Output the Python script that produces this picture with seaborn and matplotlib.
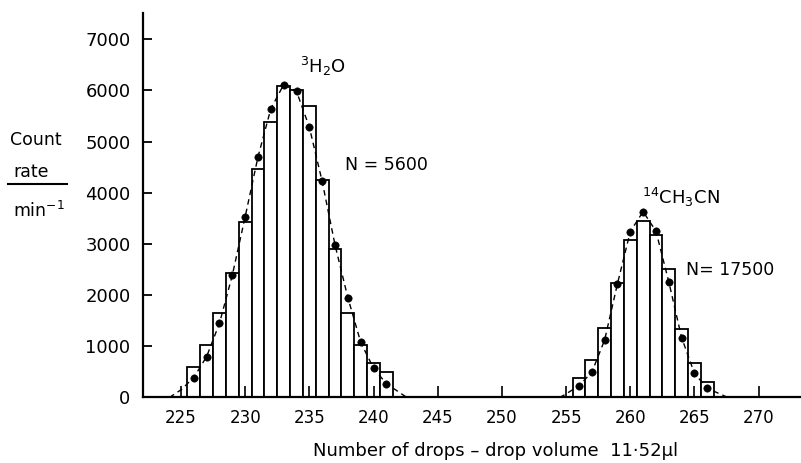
import matplotlib
matplotlib.use("Agg")
import matplotlib.pyplot as plt
import seaborn as sns
import pandas as pd
from matplotlib.lines import Line2D

# drop numbers for the two peaks
peak1_x = [226, 227, 228, 229, 230, 231, 232, 233, 234, 235, 236, 237, 238, 239, 240, 241]
peak2_x = [256, 257, 258, 259, 260, 261, 262, 263, 264, 265, 266]

# histogram bars (count rate, min^-1)
peak1_bars = [600, 1020, 1650, 2440, 3420, 4460, 5380, 6090, 6010, 5690, 4240, 2900, 1650, 1020, 670, 500]
peak2_bars = [390, 730, 1360, 2240, 3070, 3440, 3180, 2500, 1330, 680, 310]

# measured points
peak1_dots = [390, 800, 1450, 2390, 3530, 4700, 5640, 6110, 5980, 5280, 4220, 2980, 1950, 1080, 570, 270]
peak2_dots = [230, 490, 1120, 2220, 3240, 3630, 3250, 2260, 1170, 470, 180]

# dashed curve tails
curve1_x = [224.1, 225.0] + peak1_x + [242.6]
curve1_y = [0, 150] + peak1_dots + [0]
curve2_x = [254.5, 255.0] + peak2_x + [267.6]
curve2_y = [0, 70] + peak2_dots + [0]

x_ticks = [225, 230, 235, 240, 245, 250, 255, 260, 265, 270]
y_ticks = [0, 1000, 2000, 3000, 4000, 5000, 6000, 7000]

bars = pd.DataFrame({"drops": peak1_x + peak2_x, "rate": peak1_bars + peak2_bars})

fig = plt.figure(figsize=(8.01, 4.63), dpi=100)
ax = fig.add_axes([0.1785, 0.1415, 0.8215, 0.8304])

sns.barplot(data=bars, x="drops", y="rate", native_scale=True, width=1,
            color="white", edgecolor="black", linewidth=1.3, errorbar=None, ax=ax)
sns.lineplot(x=curve1_x, y=curve1_y, color="black", linestyle=(0, (4, 3)), linewidth=1, ax=ax)
sns.lineplot(x=curve2_x, y=curve2_y, color="black", linestyle=(0, (4, 3)), linewidth=1, ax=ax)
sns.scatterplot(x=peak1_x + peak2_x, y=peak1_dots + peak2_dots, color="black",
                s=28, edgecolor="black", zorder=4, ax=ax)

ax.set_xlim(222.04, 273.3)
ax.set_ylim(0, 7510)
ax.set_xticks(x_ticks)
ax.set_xticklabels([str(t) for t in x_ticks])
ax.set_yticks(y_ticks)
ax.set_yticklabels([str(t) for t in y_ticks])
ax.set_axisbelow(False)

for s in ["top", "right"]:
    ax.spines[s].set_visible(False)
for s in ["left", "bottom"]:
    ax.spines[s].set_linewidth(1.6)

ax.tick_params(axis="x", direction="in", length=8, width=1.2, pad=8, labelsize=12)
ax.tick_params(axis="y", direction="in", length=6.5, width=1.3, pad=9, labelsize=13)

ax.set_xlabel("Number of drops \u2013 drop volume  11\u00b752\u00b5l", fontsize=13)
ax.xaxis.set_label_coords(0.536, -0.115)
ax.set_ylabel("")

# annotations
ax.text(234.27, 6338, r"$^{3}$H$_{2}$O", fontsize=13, ha="left", va="baseline")
ax.text(237.77, 4443, "N = 5600", fontsize=12.5, ha="left", va="baseline")
ax.text(260.9, 3780, r"$^{14}$CH$_{3}$CN", fontsize=13, ha="left", va="baseline")
ax.text(264.38, 2383, "N= 17500", fontsize=12.5, ha="left", va="baseline")

# y-axis label as a fraction
fig.text(10 / 801, 1 - 145 / 463, "Count", fontsize=12.5, ha="left", va="baseline")
fig.text(13 / 801, 1 - 177 / 463, "rate", fontsize=12.5, ha="left", va="baseline")
fig.add_artist(Line2D([8 / 801, 67 / 801], [1 - 184 / 463, 1 - 184 / 463], color="black", linewidth=1.5))
fig.text(13 / 801, 1 - 217 / 463, r"min$^{-1}$", fontsize=12.5, ha="left", va="baseline")

fig.savefig("out.png", dpi=100)
